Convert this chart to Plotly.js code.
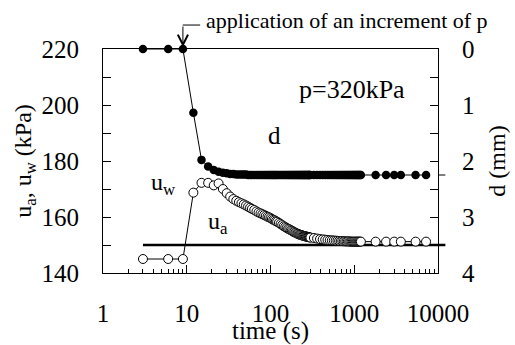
<!DOCTYPE html>
<html>
<head>
<meta charset="utf-8">
<script src="https://cdn.plot.ly/plotly-3.0.1.min.js"></script>
<style>html,body{margin:0;padding:0;background:#fff;}#chart{width:515px;height:345px;}</style>
</head>
<body>
<div id="chart"></div>
<script>
// time (s) for settlement d and pore-water pressure uw
var timeS = [3,6,9,12,15,18,21,24,27,30,33,36,39,42,45,48,51,54,57,60,
  64,68,72,76,80,84,88,92,96,100,104,108,112,116,120,
  126,132,138,144,150,156,162,168,174,180,186,192,198,204,210,216,222,228,234,240,246,252,258,264,270,276,282,288,294,300,
  330,360,390,420,450,480,510,540,570,600,630,660,690,720,750,780,810,840,870,900,930,960,990,1020,1050,1080,1110,1140,1170,1200,
  1800,2400,3000,3600,5400,7200];
// settlement d (mm), right axis (reversed)
var dMM = [0,0,0,1.14,1.98,2.10,2.16,2.19,2.21,2.22,2.23,2.23,2.24,2.24,2.24,2.24,2.24,2.25,2.25,2.25,
  2.25,2.25,2.25,2.25,2.25,2.25,2.25,2.25,2.25,2.25,2.25,2.25,2.25,2.25,2.25,
  2.25,2.25,2.25,2.25,2.25,2.25,2.25,2.25,2.25,2.25,2.25,2.25,2.25,2.25,2.25,2.25,2.25,2.25,2.25,2.25,2.25,2.25,2.25,2.25,2.25,2.25,2.25,2.25,2.25,2.25,
  2.25,2.25,2.25,2.25,2.25,2.25,2.25,2.25,2.25,2.25,2.25,2.25,2.25,2.25,2.25,2.25,2.25,2.25,2.25,2.25,2.25,2.25,2.25,2.25,2.25,2.25,2.25,2.25,2.25,2.25,
  2.25,2.25,2.25,2.25,2.25,2.25];
// pore-water pressure uw (kPa)
var uwKPa = [145,145,145,168.7,172.2,172.2,171.3,172,170,168.5,167.3,166.4,165.8,165.3,164.9,164.5,164.1,163.7,163.3,162.9,
  162.5,162.0,161.6,161.3,161.0,160.7,160.4,160.1,159.9,159.6,159.3,159.0,158.8,158.5,158.3,
  157.9,157.5,157.1,156.7,156.4,156.1,155.8,155.6,155.3,155.1,154.8,154.6,154.4,154.2,154.0,153.9,153.7,153.6,153.5,153.4,153.3,153.2,153.1,153.05,153.0,152.9,152.85,152.8,152.7,152.65,
  152.5,152.3,152.1,152.0,151.9,151.8,151.7,151.65,151.6,151.55,151.5,151.45,151.4,151.4,151.35,151.3,151.3,151.3,151.25,151.25,151.2,151.2,151.2,151.2,151.2,151.2,151.2,151.2,151.2,151.2,
  151.2,151.2,151.2,151.2,151.2,151.2];
// pore-air pressure ua (kPa)
var timeA = [3,10000];
var uaKPa = [150,150];
// axis ticks
var xTicks = [1,10,100,1000,10000];
var yTicks = [140,160,180,200,220];
var y2Ticks = [0,1,2,3,4];

var serif = "'Liberation Serif', 'Times New Roman', serif";
var traces = [
  {x: timeA, y: uaKPa, mode: 'lines', line: {color: '#000', width: 2.5}, xaxis: 'x', yaxis: 'y', hoverinfo: 'skip'},
  {x: timeS, y: uwKPa, mode: 'lines+markers', line: {color: '#000', width: 1},
   marker: {symbol: 'circle', size: 9, color: '#fff', line: {color: '#000', width: 1}}, xaxis: 'x', yaxis: 'y', cliponaxis: false},
  {x: timeS, y: dMM, mode: 'lines+markers', line: {color: '#000', width: 1},
   marker: {symbol: 'circle', size: 8.5, color: '#000'}, xaxis: 'x', yaxis: 'y2', cliponaxis: false}
];

var layout = {
  width: 515, height: 345,
  margin: {l: 103, r: 77, t: 49, b: 72},
  paper_bgcolor: '#fff', plot_bgcolor: '#fff',
  showlegend: false,
  font: {family: serif, color: '#000', size: 25},
  xaxis: {
    type: 'log', range: [0, 4], showgrid: false, zeroline: false,
    showline: true, linecolor: '#000', linewidth: 1, mirror: true,
    ticks: 'inside', ticklen: 8, tickcolor: '#000', tickvals: xTicks, ticktext: xTicks.map(String),
    minor: {dtick: 'D1', ticks: 'inside', ticklen: 4, tickcolor: '#000', showgrid: false},
    tickfont: {family: serif, size: 25}, ticklabelstandoff: 18,
    title: {text: 'time (s)', font: {family: serif, size: 25}, standoff: 6}
  },
  yaxis: {
    range: [140, 220], showgrid: false, zeroline: false,
    showline: true, linecolor: '#000', linewidth: 1,
    ticks: 'inside', ticklen: 8, tickcolor: '#000', tickvals: yTicks, ticktext: yTicks.map(String),
    minor: {dtick: 10, ticks: 'inside', ticklen: 8, tickcolor: '#000', showgrid: false},
    tickfont: {family: serif, size: 25}, ticklabelstandoff: 18,
    title: {text: 'u<sub>a</sub>, u<sub>w</sub> (kPa)', font: {family: serif, size: 24}, standoff: 3}
  },
  yaxis2: {
    overlaying: 'y', side: 'right', range: [4, 0], showgrid: false, zeroline: false,
    showline: true, linecolor: '#000', linewidth: 1,
    ticks: 'inside', ticklen: 8, tickcolor: '#000', tickvals: y2Ticks, ticktext: y2Ticks.map(String),
    minor: {dtick: 0.5, ticks: 'inside', ticklen: 8, tickcolor: '#000', showgrid: false},
    tickfont: {family: serif, size: 25}, ticklabelstandoff: 18,
    title: {text: 'd (mm)', font: {family: serif, size: 24}, standoff: 14}
  },
  shapes: [
    {type: 'line', xref: 'paper', yref: 'y', x0: 1, x1: 1.022, y0: uaKPa[1], y1: uaKPa[1], line: {color: '#000', width: 2.5}},
    {type: 'line', xref: 'paper', yref: 'y2', x0: 1, x1: 1.022, y0: dMM[dMM.length-1], y1: dMM[dMM.length-1], line: {color: '#000', width: 1}},
    {type: 'line', xref: 'paper', yref: 'paper', x0: 0.238, x1: 0.29, y0: 1.107, y1: 1.107, line: {color: '#000', width: 1}}
  ],
  annotations: [
    {xref: 'x', yref: 'y2', x: Math.log10(timeS[2]), y: dMM[2], text: '', showarrow: true,
     ax: 0, ay: -24, arrowhead: 5, arrowsize: 2, arrowwidth: 1, arrowcolor: '#000', standoff: 2},
    {xref: 'paper', yref: 'paper', x: 0.3, y: 1.128, xanchor: 'left', yanchor: 'middle',
     text: 'application of an increment of p', showarrow: false, font: {family: serif, size: 22}},
    {xref: 'paper', yref: 'paper', x: 0.743, y: 0.817, xanchor: 'center', yanchor: 'middle',
     text: 'p=320kPa', showarrow: false, font: {family: serif, size: 26}},
    {xref: 'paper', yref: 'paper', x: 0.513, y: 0.616, xanchor: 'center', yanchor: 'middle',
     text: 'd', showarrow: false, font: {family: serif, size: 25}},
    {xref: 'paper', yref: 'paper', x: 0.182, y: 0.397, xanchor: 'center', yanchor: 'middle',
     text: 'u<sub>w</sub>', showarrow: false, font: {family: serif, size: 24}},
    {xref: 'paper', yref: 'paper', x: 0.342, y: 0.223, xanchor: 'center', yanchor: 'middle',
     text: 'u<sub>a</sub>', showarrow: false, font: {family: serif, size: 24}}
  ]
};

Plotly.newPlot('chart', traces, layout, {staticPlot: true, displayModeBar: false});
</script>
</body>
</html>
